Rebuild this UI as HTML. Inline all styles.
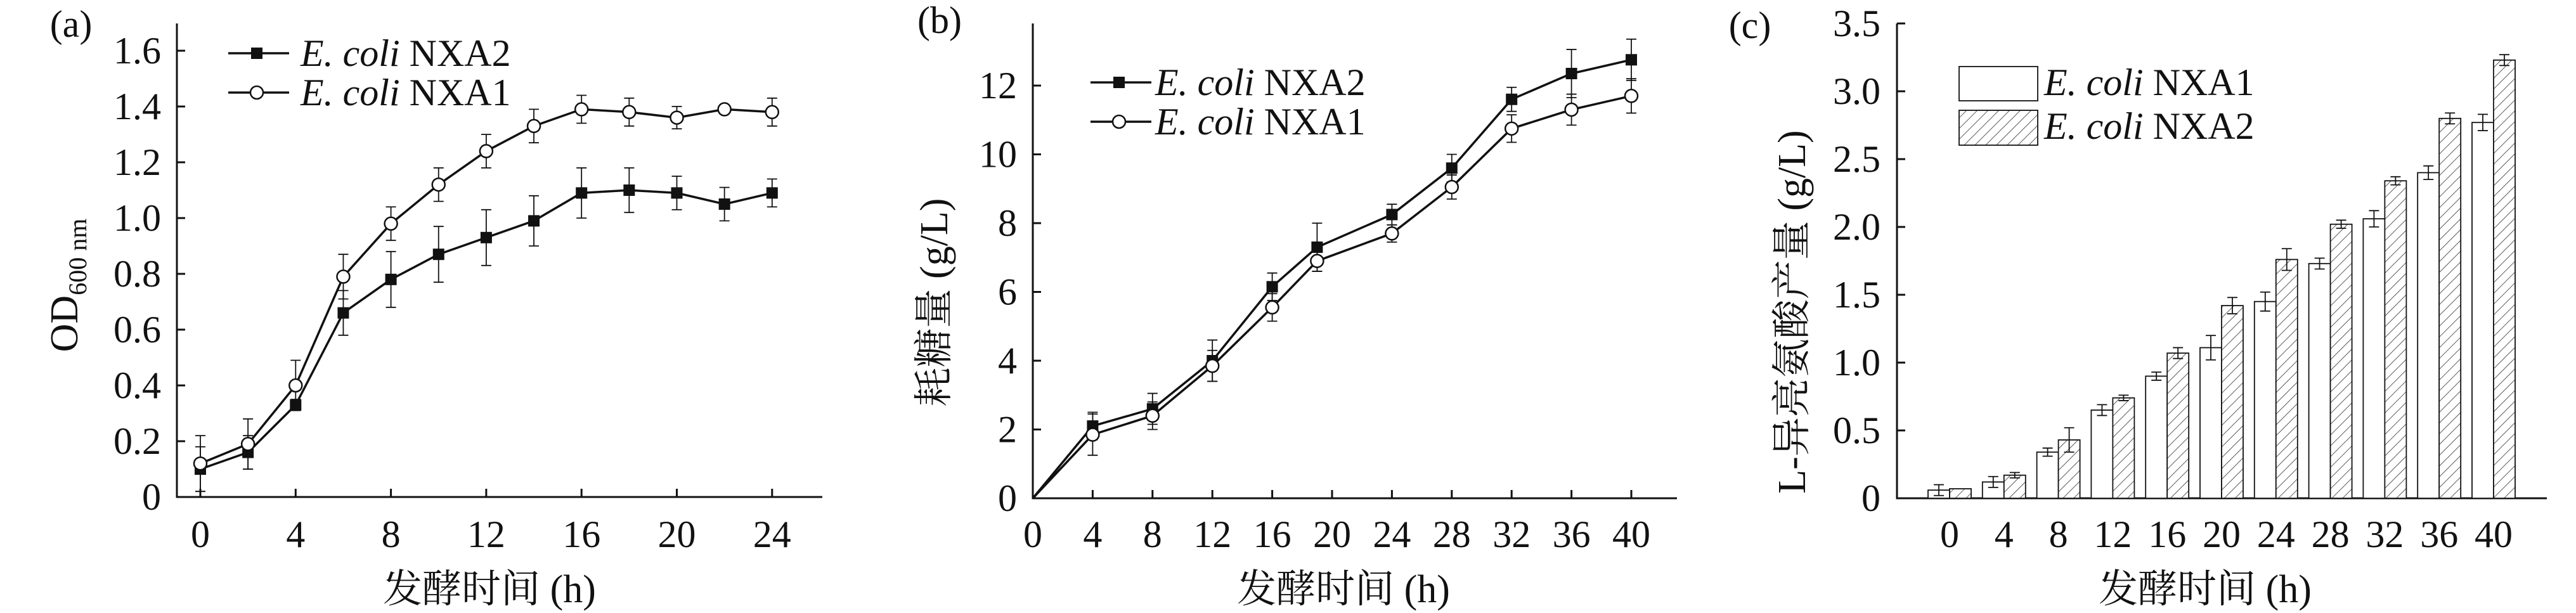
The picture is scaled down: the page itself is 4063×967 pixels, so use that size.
<!DOCTYPE html>
<html><head><meta charset="utf-8">
<style>
html,body{margin:0;padding:0;background:#fff;}
svg{display:block;}
text{font-family:"Liberation Serif","Noto Serif CJK SC",serif;fill:#111;}
</style></head>
<body>
<svg id="s" width="4063" height="967" viewBox="0 0 4063 967" xmlns="http://www.w3.org/2000/svg">
<defs>
<pattern id="hatch" patternUnits="userSpaceOnUse" width="12" height="12" patternTransform="rotate(45)">
<rect width="12" height="12" fill="#fff"/>
<line x1="0" y1="0" x2="0" y2="12" stroke="#333" stroke-width="1.6"/>
</pattern>
</defs>
</svg>
<script>
var S=document.getElementById('s');var NS='http://www.w3.org/2000/svg';
function el(t,a,txt){var e=document.createElementNS(NS,t);for(var k in a)e.setAttribute(k,a[k]);if(txt!==undefined)e.textContent=txt;S.appendChild(e);return e;}
function line(x1,y1,x2,y2,w){el('line',{x1:x1,y1:y1,x2:x2,y2:y2,stroke:'#111','stroke-width':w||3});}
function txt(x,y,s,sz,anchor,extra){var a={x:x,y:y,'font-size':sz||60,'text-anchor':anchor||'middle'};for(var k in extra)a[k]=extra[k];return el('text',a,s);}
function legendText(x,y,name){var t=el('text',{x:x,y:y,'font-size':60});var a=document.createElementNS(NS,'tspan');a.setAttribute('font-style','italic');a.textContent='E. coli';t.appendChild(a);var b=document.createElementNS(NS,'tspan');b.textContent=' '+name;t.appendChild(b);}
function sq(x,y){el('rect',{x:x-9,y:y-9,width:18,height:18,fill:'#111'});}
function ci(x,y){el('circle',{cx:x,cy:y,r:10,fill:'#fff',stroke:'#111','stroke-width':2.5});}
function err(x,y1,y2){line(x,y1,x,y2,1.8);line(x-8,y1,x+8,y1,1.8);line(x-8,y2,x+8,y2,1.8);}

// ===== Panel a =====
(function(){
var X0=279,Y0=784;function px(t){return 316+t*150.3/4;}function py(v){return Y0-v*88/0.2*1;}
line(X0,37,X0,Y0+1.5);line(X0,Y0,1297,Y0);
for(var i=0;i<=8;i++){var y=Y0-i*88;if(i>0)line(X0,y,X0+13,y);txt(254,y+20,i==0?'0':(i*0.2).toFixed(1),60,'end');}
for(var t=0;t<=24;t+=4){line(px(t),Y0,px(t),Y0-13);txt(px(t),863,''+t,60);}
var T=[0,2,4,6,8,10,12,14,16,18,20,22,24];
var A2=[0.10,0.16,0.33,0.66,0.78,0.87,0.93,0.99,1.09,1.10,1.09,1.05,1.09],E2=[0.08,0.06,0.02,0.08,0.1,0.1,0.1,0.09,0.09,0.08,0.06,0.06,0.05];
var A1=[0.12,0.19,0.40,0.79,0.98,1.12,1.24,1.33,1.39,1.38,1.36,1.39,1.38],E1=[0.1,0.09,0.09,0.08,0.06,0.06,0.06,0.06,0.05,0.05,0.04,0.01,0.05];
for(var i=0;i<T.length;i++){err(px(T[i]),py(A2[i]-E2[i]),py(A2[i]+E2[i]));err(px(T[i]),py(A1[i]-E1[i]),py(A1[i]+E1[i]));}
el('polyline',{points:T.map(function(t,i){return px(t)+','+py(A2[i]);}).join(' '),fill:'none',stroke:'#111','stroke-width':3.5});
el('polyline',{points:T.map(function(t,i){return px(t)+','+py(A1[i]);}).join(' '),fill:'none',stroke:'#111','stroke-width':3.5});
for(var i=0;i<T.length;i++){sq(px(T[i]),py(A2[i]));ci(px(T[i]),py(A1[i]));}
txt(112,58,'(a)',60,'middle');
line(360,84,456,84,3.5);sq(405,84);legendText(474,104,'NXA2');
line(360,146,456,146,3.5);ci(405,146);legendText(474,166,'NXA1');
var g=el('text',{x:0,y:0,'font-size':62,'text-anchor':'middle',transform:'translate(122,450) rotate(-90)'});
g.textContent='OD';var sb=document.createElementNS(NS,'tspan');sb.setAttribute('font-size','40');sb.setAttribute('dy','14');sb.textContent='600 nm';g.appendChild(sb);
txt(772,950,'发酵时间 (h)',62);
})();

// ===== Panel b =====
(function(){
var X0=1629,Y0=786;function px(t){return 1629+t*94.4/4;}function py(v){return Y0-v*108.5/2;}
line(X0,37,X0,Y0+1.5);line(X0,Y0,2645,Y0);
for(var i=0;i<=6;i++){var y=Y0-i*108.5;if(i>0)line(X0,y,X0+13,y);txt(1604,y+20,''+(i*2),60,'end');}
for(var t=0;t<=40;t+=4){if(t>0)line(px(t),Y0,px(t),Y0-13);txt(px(t),863,''+t,60);}
var T=[0,4,8,12,16,19,24,28,32,36,40];
var B2=[0,2.1,2.6,4.0,6.15,7.3,8.25,9.6,11.6,12.35,12.75],E2=[0,0.4,0.45,0.6,0.4,0.7,0.3,0.4,0.35,0.7,0.6];
var B1=[0,1.85,2.4,3.85,5.55,6.9,7.7,9.05,10.75,11.3,11.7],E1=[0,0.6,0.4,0.45,0.4,0.3,0.25,0.35,0.4,0.45,0.5];
for(var i=1;i<T.length;i++){err(px(T[i]),py(B2[i]-E2[i]),py(B2[i]+E2[i]));err(px(T[i]),py(B1[i]-E1[i]),py(B1[i]+E1[i]));}
el('polyline',{points:T.map(function(t,i){return px(t)+','+py(B2[i]);}).join(' '),fill:'none',stroke:'#111','stroke-width':3.5});
el('polyline',{points:T.map(function(t,i){return px(t)+','+py(B1[i]);}).join(' '),fill:'none',stroke:'#111','stroke-width':3.5});
for(var i=1;i<T.length;i++){sq(px(T[i]),py(B2[i]));ci(px(T[i]),py(B1[i]));}
txt(1482,52,'(b)',60,'middle');
line(1720,130,1816,130,3.5);sq(1765,130);legendText(1822,150,'NXA2');
line(1720,192,1816,192,3.5);ci(1765,192);legendText(1822,212,'NXA1');
txt(0,0,'耗糖量 (g/L)',62,'middle',{transform:'translate(1494,477) rotate(-90)'});
txt(2119,950,'发酵时间 (h)',62);
})();

// ===== Panel c =====
(function(){
var X0=2992,Y0=786;function py(v){return Y0-v*107/0.5;}
line(X0,37,X0,Y0+1.5);line(X0,Y0,4017,Y0);
var labs=['0','0.5','1.0','1.5','2.0','2.5','3.0','3.5'];
for(var i=0;i<=7;i++){var y=Y0-i*107;if(i>0)line(X0,y,X0+13,y);txt(2966,y+20,labs[i],60,'end');}
var C1=[0.06,0.12,0.34,0.65,0.90,1.11,1.45,1.73,2.06,2.40,2.77],F1=[0.04,0.04,0.03,0.04,0.03,0.09,0.07,0.04,0.06,0.05,0.06];
var C2=[0.07,0.17,0.43,0.74,1.07,1.42,1.76,2.02,2.34,2.80,3.23],F2=[0.0,0.02,0.09,0.02,0.04,0.06,0.08,0.03,0.03,0.04,0.04];
for(var i=0;i<11;i++){var c=3075+i*85.8;
el('rect',{x:c-34,y:py(C1[i]),width:34,height:Y0-py(C1[i]),fill:'#fff',stroke:'#111','stroke-width':1.8});
el('rect',{x:c,y:py(C2[i]),width:34,height:Y0-py(C2[i]),fill:'url(#hatch)',stroke:'#111','stroke-width':1.8});
err(c-17,py(C1[i]-F1[i]),py(C1[i]+F1[i]));if(F2[i]>0)err(c+17,py(C2[i]-F2[i]),py(C2[i]+F2[i]));
txt(c,863,''+(i*4),60);}
txt(2760,60,'(c)',60,'middle');
el('rect',{x:3090,y:105,width:124,height:54,fill:'#fff',stroke:'#111','stroke-width':1.8});legendText(3224,150,'NXA1');
el('rect',{x:3090,y:174,width:124,height:55,fill:'url(#hatch)',stroke:'#111','stroke-width':1.8});legendText(3224,219,'NXA2');
txt(0,0,'L-异亮氨酸产量 (g/L)',62,'middle',{transform:'translate(2847,492) rotate(-90)'});
txt(3478,950,'发酵时间 (h)',62);
})();
</script>
</body></html>
